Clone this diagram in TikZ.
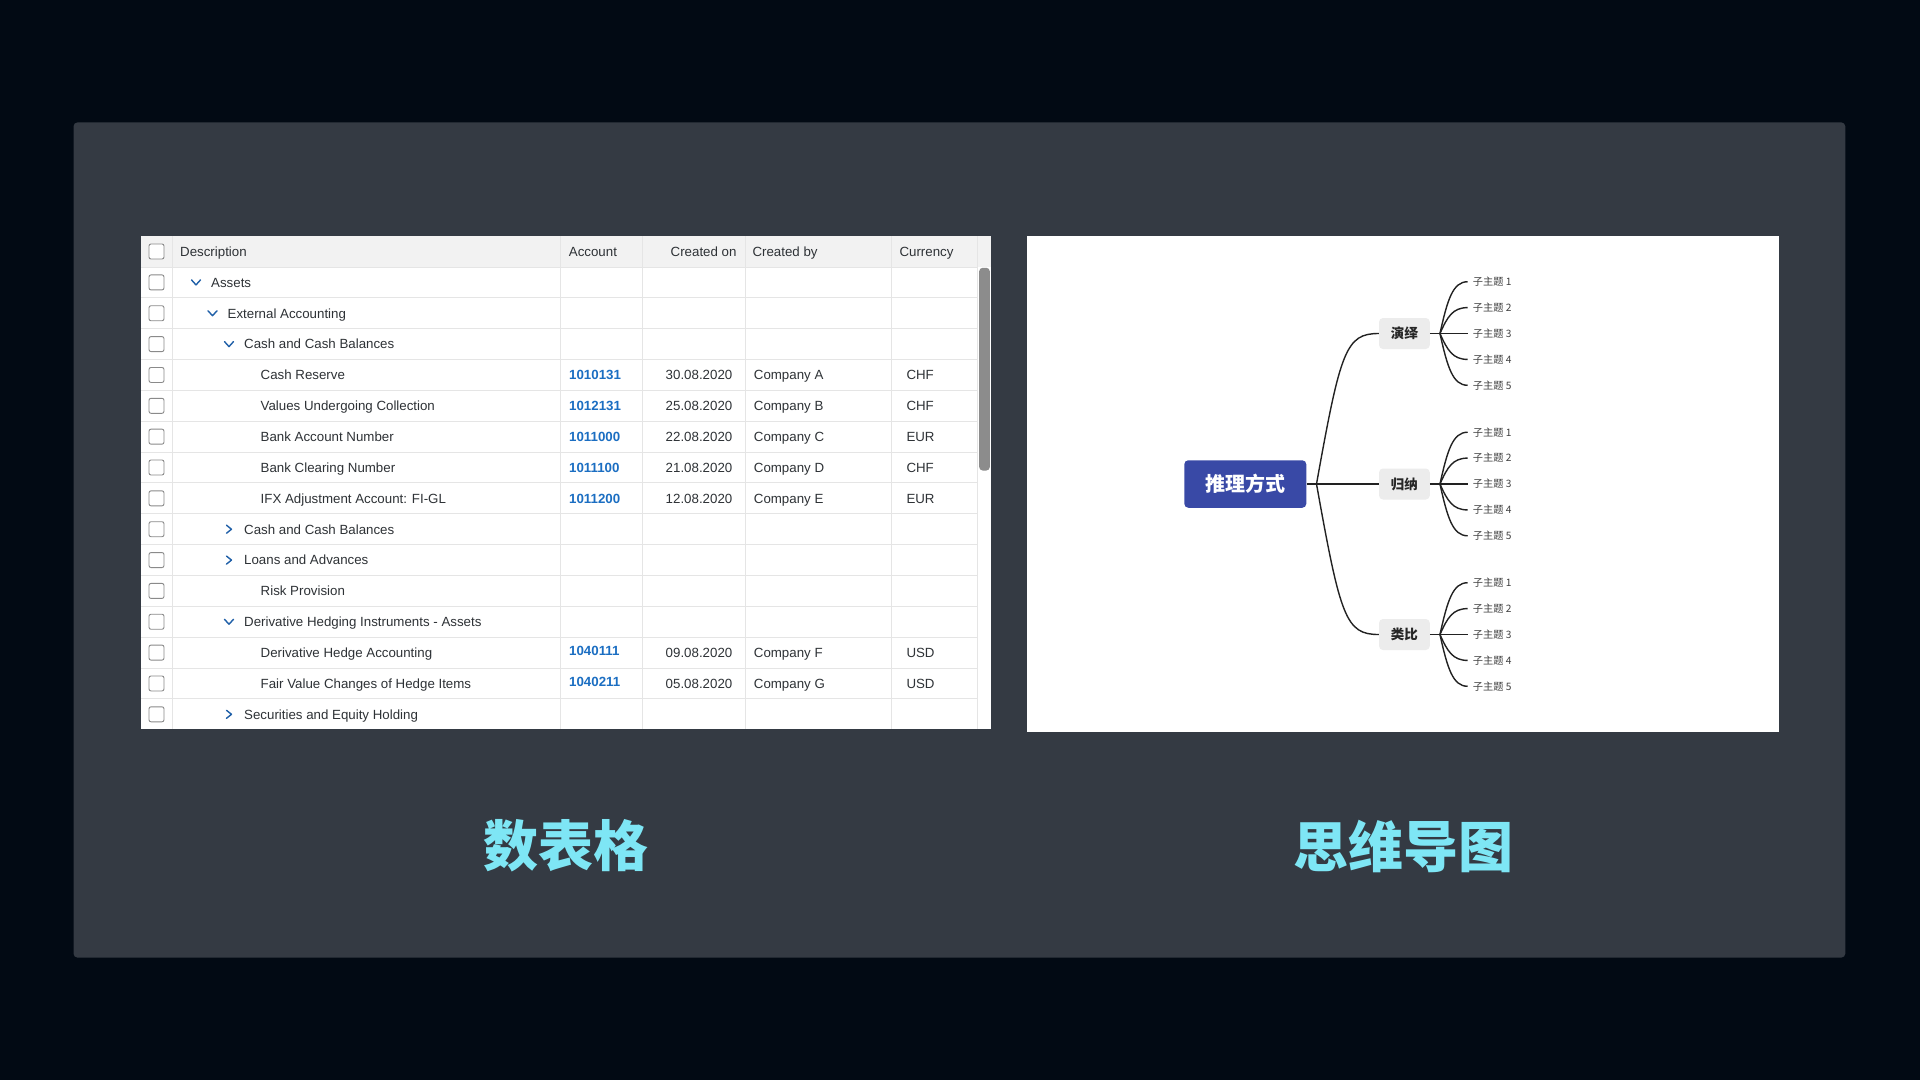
\documentclass[tikz,border=0pt]{standalone}
\usepackage{fontspec}
\setmainfont{Liberation Sans}
\newfontfamily\cjk{Noto Sans CJK SC}
\usetikzlibrary{calc}
\definecolor{bgc}{HTML}{020A14}
\definecolor{panel}{HTML}{343A43}
\definecolor{hdr}{HTML}{F2F2F2}
\definecolor{gridc}{HTML}{E5E5E5}
\definecolor{txt}{HTML}{2E3236}
\definecolor{linkc}{HTML}{1B6EC2}
\definecolor{chevc}{HTML}{2060A8}
\definecolor{cbc}{HTML}{8A8A8A}
\definecolor{sbc}{HTML}{8C8C8C}
\definecolor{rootc}{HTML}{3949A6}
\definecolor{subc}{HTML}{ECECEC}
\definecolor{titlec}{HTML}{7EE6F5}
\definecolor{connc}{HTML}{222222}
\tikzset{
  cell/.style={font=\fontsize{13.3}{16}\selectfont, text=txt, inner sep=0pt, anchor=base west},
  cellr/.style={cell, anchor=base east},
  linkcell/.style={cell, text=linkc, font=\fontsize{13.3}{16}\selectfont\bfseries},
  cbox/.style={draw=cbc, line width=0.9pt, fill=white, rounded corners=2pt, minimum size=15pt, inner sep=0pt},
  gridline/.style={draw=gridc, line width=1pt},
  chev/.style={draw=chevc, line width=1.4pt, line cap=round, line join=round},
  rootn/.style={fill=rootc, rounded corners=4pt, minimum width=122pt, minimum height=47.5pt, inner sep=0pt, text=white, font=\cjk\bfseries\fontsize{20}{24}\selectfont},
  subn/.style={fill=subc, rounded corners=4pt, minimum width=50.7pt, minimum height=31pt, inner sep=0pt, text=black!85, font=\cjk\bfseries\fontsize{13.5}{16}\selectfont},
  leafn/.style={anchor=west, inner xsep=5pt, inner ysep=0pt, text=black!75, font=\cjk\fontsize{10.2}{12}\selectfont},
  conn/.style={draw=connc, line width=1.4pt},
  titlen/.style={text=titlec, font=\cjk\bfseries\fontsize{55}{60}\selectfont, inner sep=0pt}
}
\newcommand\trow[4]{%
  \pgfmathsetmacro\yc{282.4+(#1-1)*30.85}%
  \pgfmathsetmacro\xt{211+(#2-1)*16.5}%
  \node[cbox] (cb#1) at (156.5,\yc) {};
  \node[cell] (d#1) at (\xt,\yc+4.8) {#4};
  \pgfmathsetmacro\xc{\xt-15}%
  \ifnum#3=1 \draw[chev] (\xc-4.5,\yc-2.5) -- (\xc,\yc+2.5) -- (\xc+4.5,\yc-2.5);\fi
  \ifnum#3=2 \draw[chev] (\xc-2.5,\yc-4) -- (\xc+2.5,\yc) -- (\xc-2.5,\yc+4);\fi
}
\newcommand\tdata[6]{%
  \pgfmathsetmacro\yc{282.4+(#1-1)*30.85}%
  \node[linkcell] (a#1) at (569,\yc+4.8+#6) {#2};
  \node[cellr] (dt#1) at (732.5,\yc+4.8) {#3};
  \node[cell] (c#1) at (753.7,\yc+4.8) {#4};
  \node[cell] (cu#1) at (906.3,\yc+4.8) {#5};
}
\begin{document}
\begin{tikzpicture}[x=1pt,y=-1pt]
\useasboundingbox (0,0) rectangle (1920,1080);
\fill[bgc] (0,0) rectangle (1920,1080);
\fill[panel, rounded corners=4pt] (73.5,122.4) rectangle (1845.3,957.6);
% ---------- table ----------
\fill[white] (141,236) rectangle (990.7,729);
\fill[hdr] (141,236) rectangle (990.7,267);
\foreach \i in {0,...,14} \draw[gridline] (141,267+\i*30.85) -- (977.7,267+\i*30.85);
\foreach \x in {172.5,560.8,642.7,745.7,891.7,977.7} \draw[gridline] (\x,236) -- (\x,729);
\fill[sbc, rounded corners=3.5pt] (979.2,267.8) rectangle (989.8,470.5);
\node[cbox] (cb0) at (156.5,251.5) {};
\node[cell] (h1) at (180,256.3) {Description};
\node[cell] (h2) at (568.7,256.3) {Account};
\node[cellr] (h3) at (736.7,256.3) {Created on};
\node[cell] (h4) at (752.3,256.3) {Created by};
\node[cell] (h5) at (899.3,256.3) {Currency};
\trow{1}{1}{1}{Assets}
\trow{2}{2}{1}{External Accounting}
\trow{3}{3}{1}{Cash and Cash Balances}
\trow{4}{4}{0}{Cash Reserve}
\trow{5}{4}{0}{Values Undergoing Collection}
\trow{6}{4}{0}{Bank Account Number}
\trow{7}{4}{0}{Bank Clearing Number}
\trow{8}{4}{0}{IFX Adjustment Account: FI-GL}
\trow{9}{3}{2}{Cash and Cash Balances}
\trow{10}{3}{2}{Loans and Advances}
\trow{11}{4}{0}{Risk Provision}
\trow{12}{3}{1}{Derivative Hedging Instruments - Assets}
\trow{13}{4}{0}{Derivative Hedge Accounting}
\trow{14}{4}{0}{Fair Value Changes of Hedge Items}
\trow{15}{3}{2}{Securities and Equity Holding}
\tdata{4}{1010131}{30.08.2020}{Company A}{CHF}{0}
\tdata{5}{1012131}{25.08.2020}{Company B}{CHF}{0}
\tdata{6}{1011000}{22.08.2020}{Company C}{EUR}{0}
\tdata{7}{1011100}{21.08.2020}{Company D}{CHF}{0}
\tdata{8}{1011200}{12.08.2020}{Company E}{EUR}{0}
\tdata{13}{1040111}{09.08.2020}{Company F}{USD}{-1.5}
\tdata{14}{1040211}{05.08.2020}{Company G}{USD}{-1.5}
% ---------- mind map ----------
\fill[white] (1027.4,236.3) rectangle (1779.2,732.3);
\node[rootn] (root) at (1245.3,484) {推理方式};
\node[subn] (n1) at (1404.4,333.5) {演绎};
\node[subn] (n2) at (1404.4,484) {归纳};
\node[subn] (n3) at (1404.4,634.5) {类比};
\coordinate (rb) at ($(root.east)+(10,0)$);
\draw[conn] (root.east) -- (rb);
\draw[conn] (rb) -- (n2.west);
\draw[conn] (rb) .. controls +(24,-134) and +(-33,0) .. (n1.west);
\draw[conn] (rb) .. controls +(24,134) and +(-33,0) .. (n3.west);
\foreach \k/\yk in {1/333.5,2/484,3/634.5}{
  \coordinate (s\k) at ($(n\k.east)+(10,0)$);
  \draw[conn] (n\k.east) -- (s\k);
  \foreach \j in {1,...,5}{
    \pgfmathsetmacro\dy{(\j-3)*25.9}
    \node[leafn] (l\k-\j) at (1467.7,\yk+\dy) {子主题 \j};
    \ifnum\j=3
      \draw[conn] (s\k) -- (l\k-\j.west);
    \else
      \draw[conn] (s\k) .. controls +(7.5,0.65*\dy) and +(-15,0) .. (l\k-\j.west);
    \fi
  }
}
% ---------- titles ----------
\node[titlen] (t1) at (565.7,846) {数表格};
\node[titlen] (t2) at (1403.3,846) {思维导图};
\end{tikzpicture}
\end{document}
